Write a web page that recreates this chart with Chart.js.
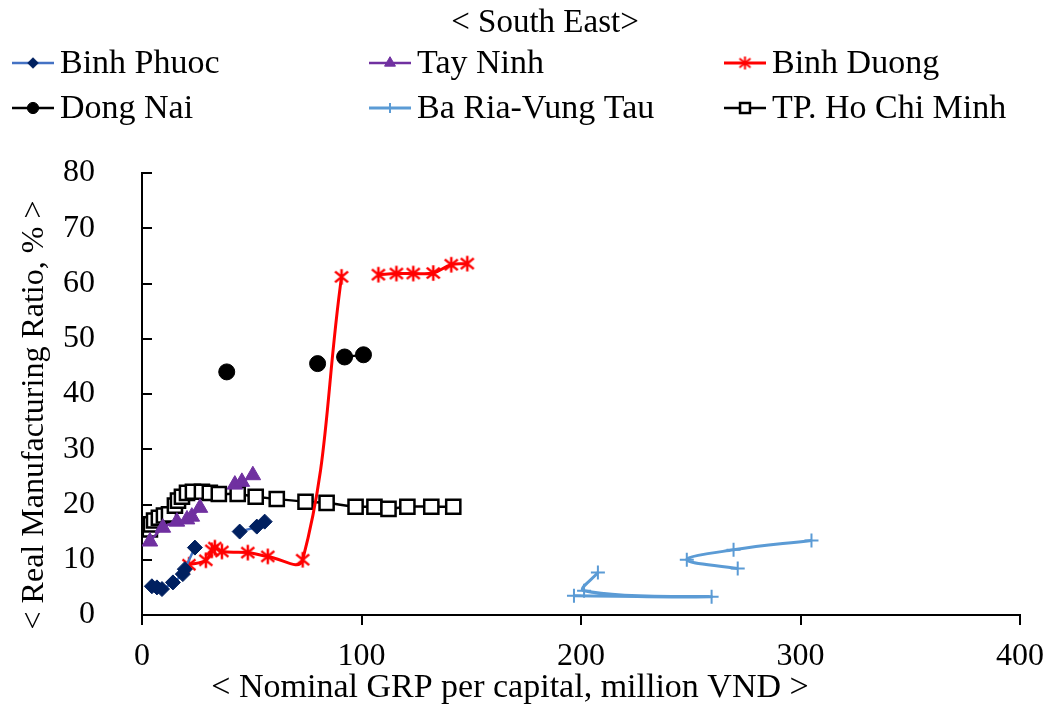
<!DOCTYPE html>
<html>
<head>
<meta charset="utf-8">
<script src="https://cdn.jsdelivr.net/npm/chart.js@4/dist/chart.umd.min.js"></script>
<style>
  html, body { margin: 0; padding: 0; background: #fff; }
  #wrap { width: 1056px; height: 713px; position: relative; }
</style>
</head>
<body>
<div id="wrap"><canvas id="c" width="1056" height="713"></canvas></div>
<script>
// ---- data (null = break in the line) ----
const xTicks = [0, 100, 200, 300, 400]
const yTicks = [0, 10, 20, 30, 40, 50, 60, 70, 80]

const binhPhuocX = [4.5, 6.8, 9.1, 14.1, 18.6, 19.5, 24.1, null, 44.5, 52.3, 55.9]
const binhPhuocY = [5.2, 5.0, 4.7, 5.9, 7.4, 8.3, 12.2, null, 15.1, 16.0, 16.9]

const tayNinhX = [3.6, 9.5, 15.9, 20.5, 22.7, 26.4, null, 42.3, 45.5, 50.5]
const tayNinhY = [13.3, 15.8, 16.9, 17.3, 17.8, 19.4, null, 23.6, 24.1, 25.3]

const binhDuongX = [21.4, 29.1, 31.8, 33.2, 36.4, 48.2, 57.3, 73.2, 90.9, null, 107.7, 115.9, 123.6, 132.7, 140.9, 148.2]
const binhDuongY = [9.1, 9.9, 11.7, 12.2, 11.5, 11.3, 10.6, 10.0, 61.2, null, 61.6, 61.8, 61.8, 61.9, 63.4, 63.6]

const dongNaiX = [38.6, null, 80.0, null, 92.3, 100.9]
const dongNaiY = [44.0, null, 45.5, null, 46.7, 47.1]

const baRiaX = [196.8, 259.5, 201.4, 207.7, null, 271.4, 248.2, 269.5, 305.0]
const baRiaY = [3.5, 3.3, 4.4, 7.7, null, 8.4, 10.0, 11.8, 13.5]

const hcmX = [3.6, 4.1, 5.5, 7.7, 10.0, 12.3, 15.0, 16.4, 18.2, 20.5, 23.2, 27.3, 30.9, 35.0, 43.6,
  51.8, 61.4, 74.5, 84.1, 97.3, 105.9, 112.3, 120.9, 131.8, 141.8]
const hcmY = [15.5, 16.4, 17.1, 17.6, 18.0, 18.2, 19.8, 20.7, 21.4, 22.1, 22.3, 22.3, 22.1, 21.9, 21.9,
  21.4, 21.0, 20.5, 20.3, 19.6, 19.6, 19.2, 19.6, 19.6, 19.6]

const FONT = "'Liberation Serif', 'Times New Roman', serif"

function pts(xs, ys) {
  return xs.map((x, i) => ({ x: x, y: ys[i] }))
}

// asterisk marker (X plus vertical bar) like the spreadsheet one
function makeAsterisk(color, s, w) {
  const c = document.createElement('canvas')
  c.width = s; c.height = s
  const g = c.getContext('2d')
  const m = s / 2, e = w
  g.strokeStyle = color
  g.lineWidth = w
  g.beginPath()
  g.moveTo(m, e / 2); g.lineTo(m, s - e / 2)
  g.moveTo(e, s * 0.2); g.lineTo(s - e, s * 0.8)
  g.moveTo(s - e, s * 0.2); g.lineTo(e, s * 0.8)
  g.stroke()
  return c
}
const asterisk = makeAsterisk('#ff0000', 18, 2.5)
const asteriskSmall = makeAsterisk('#ff0000', 15, 2)

const datasets = [
  { label: 'Binh Phuoc', data: pts(binhPhuocX, binhPhuocY), borderColor: '#4472c4', borderWidth: 2.5,
    pointStyle: 'rectRot', pointRadius: 7.5, pointBackgroundColor: '#002060', pointBorderColor: '#002060', pointBorderWidth: 1 },
  { label: 'Tay Ninh', data: pts(tayNinhX, tayNinhY), borderColor: '#7030a0', borderWidth: 2.5,
    pointStyle: 'triangle', pointRadius: 9, pointBackgroundColor: '#7030a0', pointBorderColor: '#7030a0', pointBorderWidth: 1 },
  { label: 'Binh Duong', data: pts(binhDuongX, binhDuongY), borderColor: '#ff0000', borderWidth: 3,
    pointStyle: asterisk, pointRadius: 9 },
  { label: 'Dong Nai', data: pts(dongNaiX, dongNaiY), borderColor: '#000000', borderWidth: 2.5,
    pointStyle: 'circle', pointRadius: 8, pointBackgroundColor: '#000', pointBorderColor: '#000', pointBorderWidth: 1 },
  { label: 'Ba Ria-Vung Tau', data: pts(baRiaX, baRiaY), borderColor: '#5b9bd5', borderWidth: 3,
    pointStyle: 'cross', pointRadius: 7, pointBorderColor: '#5b9bd5', pointBorderWidth: 2 },
  { label: 'TP. Ho Chi Minh', data: pts(hcmX, hcmY), borderColor: '#000000', borderWidth: 2.5,
    pointStyle: 'rect', pointRadius: 10, pointBackgroundColor: '#fff', pointBorderColor: '#000', pointBorderWidth: 2.5 }
]
datasets.forEach(d => { d.showLine = true; d.tension = 0.4; d.fill = false; d.spanGaps = false })

// legend layout: 3 columns x 2 rows
const legendCols = [12, 369, 724]
const legendRows = [63, 108]

const decorPlugin = {
  id: 'decor',
  afterDraw(chart) {
    const ctx = chart.ctx
    const xs = chart.scales.x, ys = chart.scales.y
    ctx.save()
    ctx.fillStyle = '#000'
    ctx.textBaseline = 'middle'

    // title
    ctx.font = '33px ' + FONT
    ctx.textAlign = 'center'
    ctx.fillText('< South East>', 545, 23)

    // legend
    chart.data.datasets.forEach((d, i) => {
      const x0 = legendCols[i % 3], y = legendRows[Math.floor(i / 3)]
      ctx.strokeStyle = d.borderColor
      ctx.lineWidth = d.borderWidth
      ctx.beginPath(); ctx.moveTo(x0, y); ctx.lineTo(x0 + 42, y); ctx.stroke()
      const mx = x0 + 21
      if (d.pointStyle instanceof HTMLCanvasElement) {
        ctx.drawImage(asteriskSmall, mx - 7.5, y - 7.5)
      } else {
        ctx.fillStyle = d.pointBackgroundColor || d.pointBorderColor
        ctx.strokeStyle = d.pointBorderColor
        ctx.lineWidth = d.pointBorderWidth
        Chart.helpers.drawPoint(ctx, { pointStyle: d.pointStyle, radius: d.pointRadius * 0.7, rotation: 0, borderWidth: d.pointBorderWidth }, mx, y)
      }
      ctx.fillStyle = '#000'
      ctx.textAlign = 'left'
      ctx.font = '34px ' + FONT
      ctx.fillText(d.label, x0 + 48, y + 1)
    })

    // inward tick marks on the value axis
    ctx.strokeStyle = '#000'
    ctx.lineWidth = 2
    yTicks.forEach(v => {
      const py = Math.round(ys.getPixelForValue(v))
      ctx.beginPath(); ctx.moveTo(xs.left, py); ctx.lineTo(xs.left + 10, py); ctx.stroke()
    })

    // axis titles
    ctx.textAlign = 'center'
    ctx.font = '34px ' + FONT
    ctx.fillText('< Nominal GRP per capital, million VND >', 510, 688)
    ctx.font = '32px ' + FONT
    ctx.translate(35, 415)
    ctx.rotate(-Math.PI / 2)
    ctx.fillText('< Real Manufacturing Ratio, % >', 0, 0)
    ctx.restore()
  }
}

new Chart(document.getElementById('c'), {
  type: 'scatter',
  data: { datasets: datasets },
  options: {
    responsive: false,
    animation: false,
    layout: { padding: { left: 0, top: 173, right: 33, bottom: 0 } },
    plugins: { legend: { display: false }, title: { display: false }, tooltip: { enabled: false } },
    scales: {
      x: {
        type: 'linear', min: 0, max: 400,
        afterFit(scale) { scale.height = 98 },
        afterBuildTicks(scale) { scale.ticks = xTicks.map(v => ({ value: v })) },
        grid: { display: true, drawOnChartArea: false, drawTicks: true, tickLength: 10, color: '#000', lineWidth: 2 },
        border: { display: true, color: '#000', width: 2 },
        ticks: { color: '#000', font: { family: FONT, size: 32 }, padding: 12, maxRotation: 0 }
      },
      y: {
        type: 'linear', min: 0, max: 80,
        afterFit(scale) { scale.width = 142 },
        afterBuildTicks(scale) { scale.ticks = yTicks.map(v => ({ value: v })) },
        grid: { display: false },
        border: { display: true, color: '#000', width: 2 },
        ticks: { color: '#000', font: { family: FONT, size: 32 }, padding: 39 }
      }
    }
  },
  plugins: [decorPlugin]
})
</script>
</body>
</html>
